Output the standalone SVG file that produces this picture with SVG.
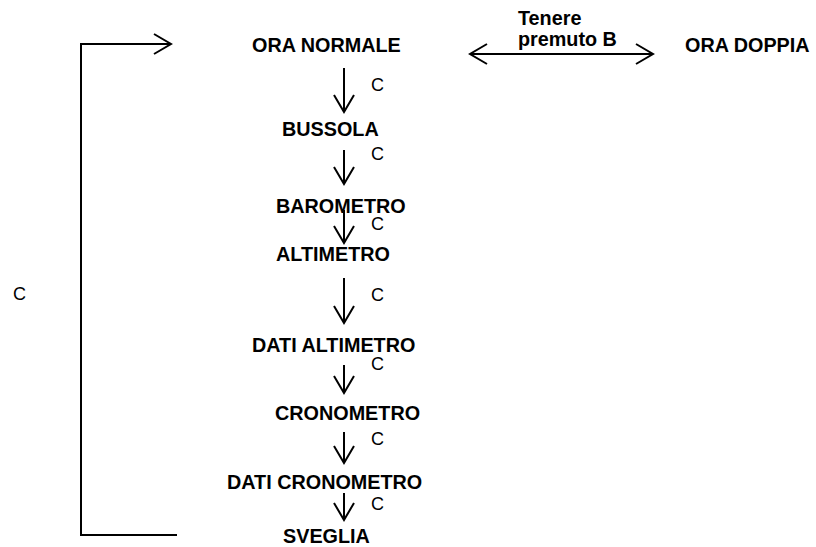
<svg xmlns="http://www.w3.org/2000/svg" width="816" height="547" viewBox="0 0 816 547">
<style>
.n{font-family:"Liberation Sans",Arial,sans-serif;font-weight:bold;font-size:19.8px;fill:#000}
.l{font-family:"Liberation Sans",Arial,sans-serif;font-size:18px;fill:#000}
.c{stroke:#000;stroke-width:2;fill:none}
</style>
<defs>
<marker id="ah" markerUnits="userSpaceOnUse" markerWidth="24" markerHeight="24" viewBox="-20 -12 24 24" refX="0" refY="0" orient="auto-start-reverse">
<path d="M-17,-10 L0,0 L-17,10" fill="none" stroke="#000" stroke-width="2"/>
</marker>
</defs>
<g id="n-ora-normale"><text class="n" x="252" y="52">ORA NORMALE</text></g>
<g id="n-ora-doppia"><text class="n" x="685" y="52">ORA DOPPIA</text></g>
<g id="n-bussola"><text class="n" x="282" y="136">BUSSOLA</text></g>
<g id="n-barometro"><text class="n" x="276" y="213">BAROMETRO</text></g>
<g id="n-altimetro"><text class="n" x="276" y="261">ALTIMETRO</text></g>
<g id="n-dati-altimetro"><text class="n" x="252" y="352">DATI ALTIMETRO</text></g>
<g id="n-cronometro"><text class="n" x="275" y="420">CRONOMETRO</text></g>
<g id="n-dati-cronometro"><text class="n" x="227" y="489">DATI CRONOMETRO</text></g>
<g id="n-sveglia"><text class="n" x="283" y="543">SVEGLIA</text></g>
<g id="connectors">
<path class="c" d="M177,535 H81 V44 H171" marker-end="url(#ah)"/>
<text class="l" x="13" y="300">C</text>
<path class="c" d="M470,54 H653" marker-start="url(#ah)" marker-end="url(#ah)"/>
<text class="n" x="518" y="25">Tenere</text>
<text class="n" x="518" y="46">premuto B</text>
<path class="c" d="M344,68 V112" marker-end="url(#ah)"/>
<text class="l" x="371" y="91">C</text>
<path class="c" d="M344,150 V184" marker-end="url(#ah)"/>
<text class="l" x="371" y="160">C</text>
<path class="c" d="M344,210 V243" marker-end="url(#ah)"/>
<text class="l" x="371" y="230">C</text>
<path class="c" d="M344,278 V323" marker-end="url(#ah)"/>
<text class="l" x="371" y="301">C</text>
<path class="c" d="M344,365 V393" marker-end="url(#ah)"/>
<text class="l" x="371" y="370">C</text>
<path class="c" d="M344,432 V463" marker-end="url(#ah)"/>
<text class="l" x="371" y="445">C</text>
<path class="c" d="M344,493 V520" marker-end="url(#ah)"/>
<text class="l" x="371" y="510">C</text>
</g>
</svg>
